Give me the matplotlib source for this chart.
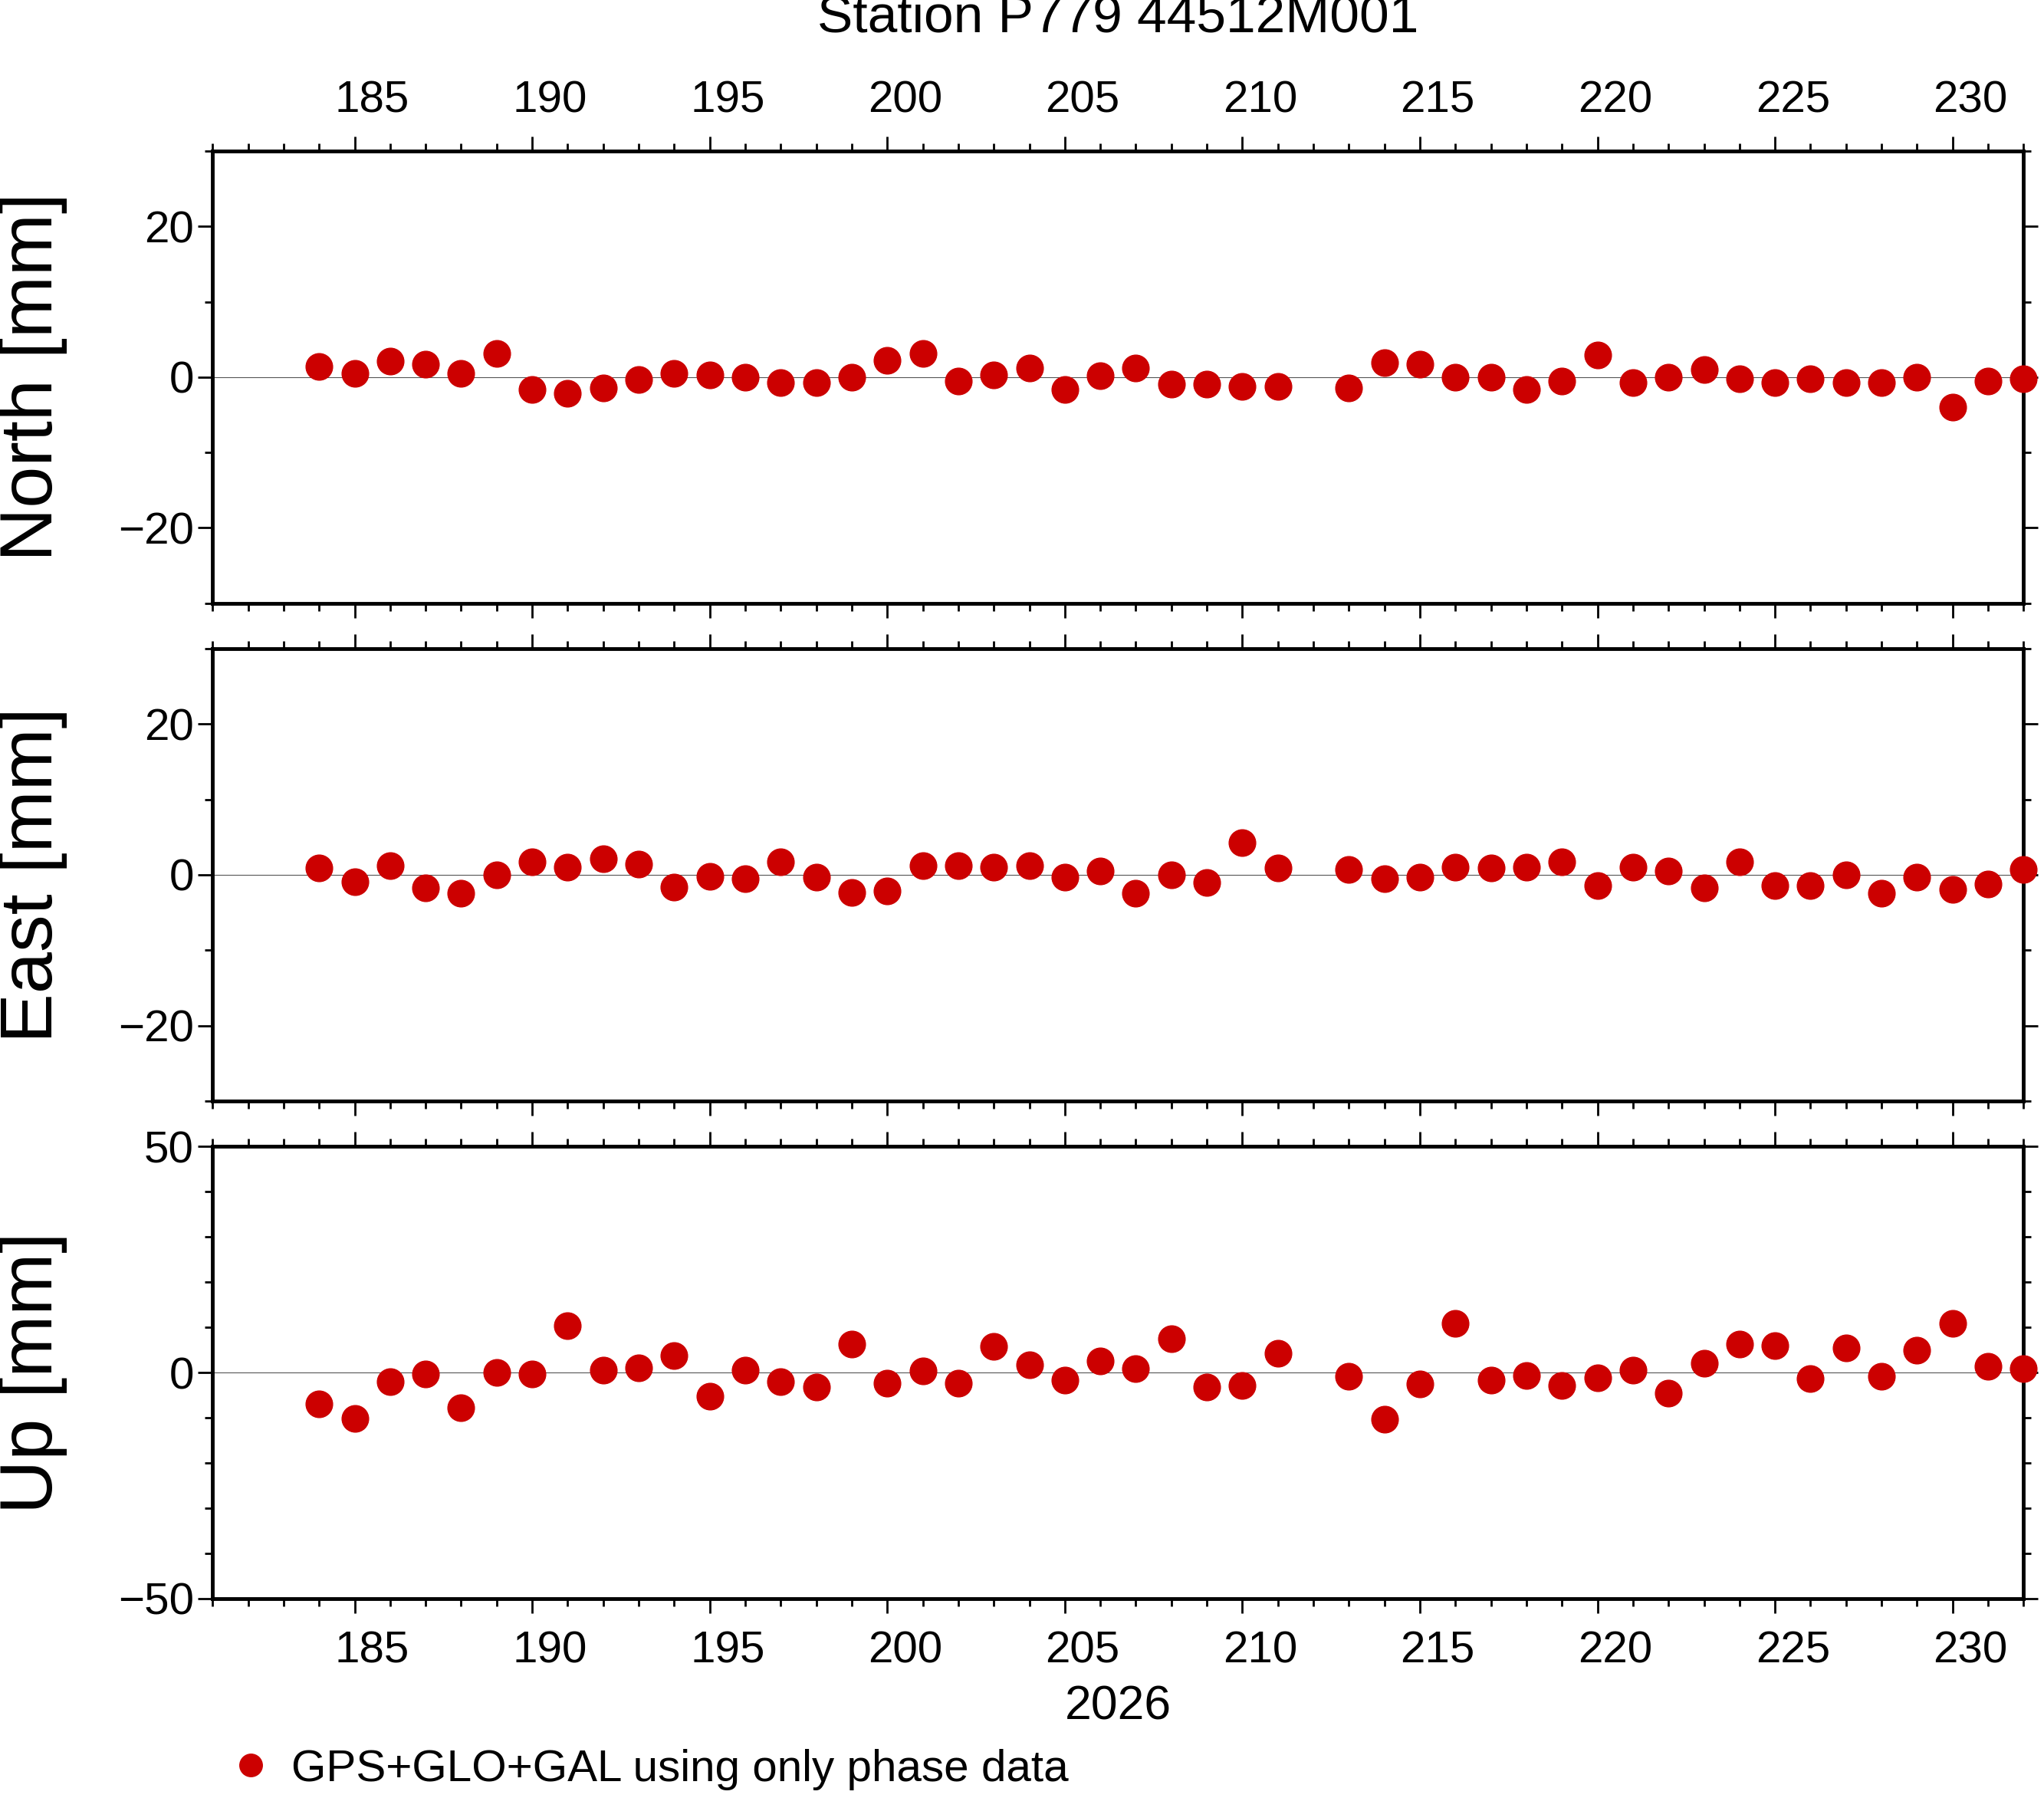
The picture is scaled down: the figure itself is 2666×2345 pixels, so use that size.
import numpy as np
import matplotlib.pyplot as plt
from matplotlib.ticker import MultipleLocator
from matplotlib.transforms import blended_transform_factory

plt.rcParams['font.family'] = ['Liberation Sans', 'DejaVu Sans']

days = [184, 185, 186, 187, 188, 189, 190, 191, 192, 193, 194, 195, 196, 197, 198, 199,
        200, 201, 202, 203, 204, 205, 206, 207, 208, 209, 210, 211, 213, 214, 215, 216,
        217, 218, 219, 220, 221, 222, 223, 224, 225, 226, 227, 228, 229, 230, 231, 232]
north = [1.4, 0.5, 2.1, 1.7, 0.5, 3.1, -1.6, -2.1, -1.4, -0.3, 0.5, 0.3, 0.0, -0.7, -0.7, 0.0,
         2.2, 3.1, -0.5, 0.3, 1.2, -1.6, 0.2, 1.2, -0.9, -0.9, -1.2, -1.2, -1.4, 1.9, 1.7, 0.0,
         0.0, -1.6, -0.5, 2.9, -0.7, 0.0, 1.0, -0.2, -0.7, -0.2, -0.7, -0.7, 0.0, -4.0, -0.5, -0.2]
east = [0.9, -0.9, 1.2, -1.7, -2.4, 0.0, 1.7, 1.0, 2.1, 1.4, -1.6, -0.2, -0.5, 1.7, -0.3, -2.3,
        -2.1, 1.2, 1.2, 1.0, 1.2, -0.3, 0.5, -2.4, 0.0, -1.0, 4.3, 0.9, 0.7, -0.5, -0.3, 1.0,
        0.9, 1.0, 1.7, -1.4, 1.0, 0.5, -1.7, 1.7, -1.4, -1.4, 0.0, -2.4, -0.3, -1.9, -1.2, 0.7]
up = [-6.9, -10.1, -2.0, -0.3, -7.8, 0.0, -0.3, 10.3, 0.6, 1.1, 3.7, -5.2, 0.6, -2.0, -3.2, 6.3,
      -2.3, 0.3, -2.3, 5.7, 1.7, -1.7, 2.6, 0.9, 7.5, -3.2, -2.9, 4.3, -0.9, -10.3, -2.6, 10.9,
      -1.7, -0.6, -2.9, -1.1, 0.6, -4.6, 2.0, 6.3, 6.0, -1.4, 5.5, -0.9, 4.9, 10.9, 1.4, 0.9]

label_days = [185, 190, 195, 200, 205, 210, 215, 220, 225, 230]
panels = [("North [mm]", north, 30, 20, 10),
          ("East [mm]", east, 30, 20, 10),
          ("Up [mm]", up, 50, 50, 10)]

fig = plt.figure(figsize=(26.66, 23.45), dpi=100)
bottoms = [0.6645, 0.3877, 0.1109]
red = "#cc0000"

for i, ((name, vals, lim, major, minor), b) in enumerate(zip(panels, bottoms)):
    ax = fig.add_axes([0.104, b, 0.886, 0.2515])
    ax.axhline(0, color="#555555", lw=0.8, zorder=1)
    ax.plot(days, vals, "o", color=red, markersize=25, zorder=3, clip_on=False,
            label="GPS+GLO+GAL using only phase data")
    ax.set_xlim(181, 232)
    ax.set_ylim(-lim, lim)
    ax.xaxis.set_major_locator(MultipleLocator(5))
    ax.xaxis.set_minor_locator(MultipleLocator(1))
    ax.yaxis.set_major_locator(MultipleLocator(major))
    ax.yaxis.set_minor_locator(MultipleLocator(minor))
    ax.tick_params(which="both", direction="out", top=True, bottom=True, left=True, right=True,
                   labelbottom=False, labeltop=False, labelright=False, labelsize=42, width=2)
    ax.tick_params(which="major", length=14)
    ax.tick_params(which="minor", length=7)
    ax.set_yticks([t for t in ax.get_yticks() if abs(t) < lim] + ([lim, -lim] if lim == 50 else []))
    ax.set_yticklabels([f"{int(t)}".replace("-", "\u2212") for t in ax.get_yticks()])
    for s in ax.spines.values():
        s.set_linewidth(3.5)
    fig.text(0.016, b + 0.2515 / 2, name, rotation=90, ha="center", va="center", fontsize=70)
    tr = blended_transform_factory(ax.transData, ax.transAxes)
    if i == 0:
        for d in label_days:
            ax.text(d + 0.5, 1.065, str(d), transform=tr, ha="center", va="bottom", fontsize=42)
        ax.set_title("Station P779 44512M001", fontsize=50, pad=112)
    if i == 2:
        for d in label_days:
            ax.text(d + 0.5, -0.07, str(d), transform=tr, ha="center", va="top", fontsize=42)
        ax.text(0.5, -0.19, "2026", transform=ax.transAxes, ha="center", va="top", fontsize=45)
        handles, labels = ax.get_legend_handles_labels()

fig.legend(handles, labels, loc="lower left", bbox_to_anchor=(0.09, -0.018), frameon=False,
           fontsize=42, handletextpad=0.3, markerscale=0.85, handlelength=1.2)
fig.savefig("out.png", dpi=100)
